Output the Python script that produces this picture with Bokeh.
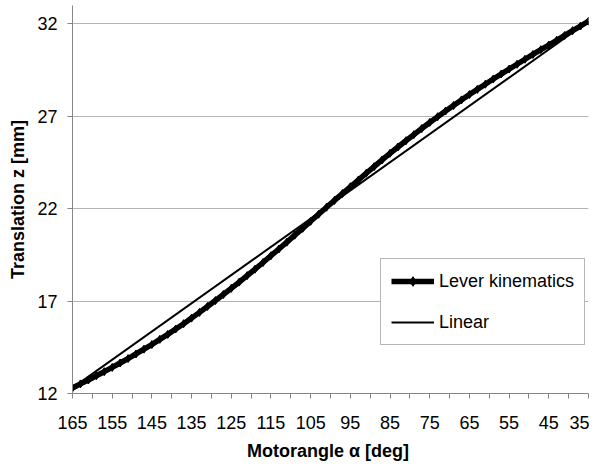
from bokeh.plotting import figure
from bokeh.models import Range1d, FixedTicker, Legend
from bokeh.embed import file_html
from bokeh.resources import INLINE

# Data
angles = list(range(165, 34, -2))  # motor angle alpha [deg]
lever_z = [12.30, 12.52, 12.73, 12.96, 13.18, 13.41, 13.65, 13.89, 14.14, 14.40,
           14.65, 14.93, 15.20, 15.49, 15.78, 16.08, 16.39, 16.71, 17.03, 17.36,
           17.69, 18.03, 18.38, 18.73, 19.09, 19.46, 19.82, 20.19, 20.57, 20.94,
           21.32, 21.70, 22.08, 22.45, 22.82, 23.19, 23.55, 23.92, 24.28, 24.64,
           25.00, 25.34, 25.68, 26.01, 26.34, 26.67, 26.98, 27.29, 27.59, 27.89,
           28.18, 28.46, 28.74, 29.02, 29.29, 29.56, 29.82, 30.09, 30.35, 30.61,
           30.86, 31.12, 31.38, 31.64, 31.89, 32.15]
linear_angles = [165, 35]
linear_z = [12.30, 32.15]

x_ticks = list(range(165, 34, -5))
x_tick_labels = [165, 155, 145, 135, 125, 115, 105, 95, 85, 75, 65, 55, 45, 35]
y_ticks = [12, 17, 22, 27, 32]

FONT = "Liberation Sans"

p = figure(width=589, height=466, output_backend="svg", toolbar_location=None,
           x_range=Range1d(165, 35), y_range=Range1d(12, 33),
           min_border_left=72, min_border_right=1, min_border_top=5,
           min_border_bottom=73)
p.outline_line_color = None
p.background_fill_color = "white"
p.border_fill_color = "white"

r_lever_line = p.line(angles, lever_z, line_width=5.5, color="black")
r_lever_pts = p.scatter(angles, lever_z, marker="diamond", size=8, color="black")
r_linear = p.line(linear_angles, linear_z, line_width=2, color="black")

# axes
xt = FixedTicker(ticks=x_ticks)
p.xaxis.ticker = xt
p.xaxis.major_label_overrides = {t: (str(t) if t in x_tick_labels else "") for t in x_ticks}
yt = FixedTicker(ticks=y_ticks)
p.yaxis.ticker = yt
p.ygrid.ticker = yt
p.xgrid.visible = False
p.ygrid.grid_line_color = "#b3b3b3"
p.ygrid.grid_line_width = 1

for ax in (p.xaxis[0], p.yaxis[0]):
    ax.axis_line_color = "#868686"
    ax.major_tick_line_color = "#868686"
    ax.major_tick_out = 5
    ax.major_tick_in = 0
    ax.minor_tick_out = 0
    ax.minor_tick_in = 0
    ax.major_label_text_font = FONT
    ax.major_label_text_font_size = "18px"
    ax.major_label_text_color = "black"
    ax.axis_label_text_font = FONT
    ax.axis_label_text_font_size = "18px"
    ax.axis_label_text_font_style = "bold"
    ax.axis_label_text_color = "black"

p.xaxis.axis_label = "Motorangle α  [deg]"
p.yaxis.axis_label = "Translation z [mm]"
p.xaxis.major_label_standoff = 17
p.xaxis.axis_label_standoff = 9
p.yaxis.major_label_standoff = 10
p.yaxis.axis_label_standoff = 6

legend = Legend(items=[("Lever kinematics", [r_lever_line, r_lever_pts]),
                       ("Linear", [r_linear])],
                location=(308, 48), orientation="vertical")
legend.label_text_font = FONT
legend.label_text_font_size = "18px"
legend.label_text_color = "black"
legend.glyph_width = 43
legend.glyph_height = 24
legend.label_height = 24
legend.label_standoff = 5
legend.spacing = 17
legend.padding = 10
legend.margin = 0
legend.border_line_color = "#6e6e6e"
legend.border_line_width = 1
legend.background_fill_alpha = 1
p.add_layout(legend, "center")

open("out.html", "w").write(file_html(p, INLINE))
